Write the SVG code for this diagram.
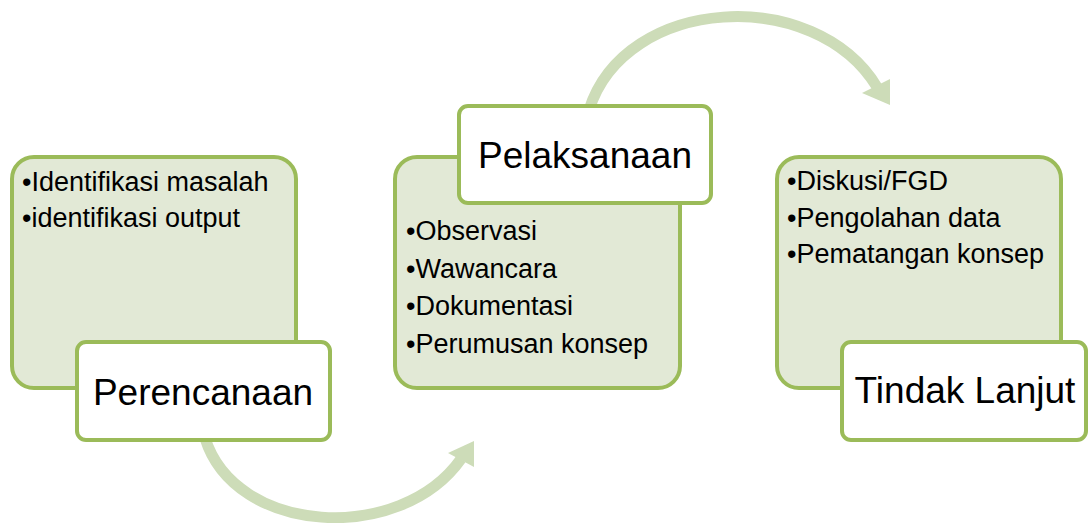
<svg xmlns="http://www.w3.org/2000/svg" width="1089" height="523" viewBox="0 0 1089 523">
<style>
.body{fill:#E2E9D6;stroke:#9BBB59;stroke-width:4}
.lab{fill:#FFFFFF;stroke:#9BBB59;stroke-width:4}
.title{font-family:"Liberation Sans",Arial,sans-serif;font-size:37px;fill:#000;text-anchor:middle}
.item{font-family:"Liberation Sans",Arial,sans-serif;font-size:27px;fill:#000}
.shaft{fill:none;stroke:#CDDCB8;stroke-width:11}
.head{fill:#CDDCB8}
</style>
<rect width="1089" height="523" fill="#FFFFFF"/>
<g id="connectors">
<path class="shaft" d="M205,438 C235,535 400,545 461,459"/>
<polygon class="head" points="448,453 474,441 474,467"/>
<path class="shaft" d="M589,110 C625,-5 815,-15 877,87"/>
<polygon class="head" points="862,93 890,79 890,105"/>
</g>
<g id="perencanaan">
<rect class="body" x="12" y="157" width="284" height="231" rx="22"/>
<text class="item" x="22" y="191">•Identifikasi masalah</text>
<text class="item" x="22" y="227">•identifikasi output</text>
<rect class="lab" x="77" y="342" width="253" height="98" rx="9"/>
<text class="title" x="203" y="405">Perencanaan</text>
</g>
<g id="pelaksanaan">
<rect class="body" x="395" y="157" width="285" height="231" rx="22"/>
<text class="item" x="406" y="240">•Observasi</text>
<text class="item" x="406" y="278">•Wawancara</text>
<text class="item" x="406" y="315">•Dokumentasi</text>
<text class="item" x="406" y="353">•Perumusan konsep</text>
<rect class="lab" x="459" y="106" width="252" height="97" rx="9"/>
<text class="title" x="585" y="168">Pelaksanaan</text>
</g>
<g id="tindak-lanjut">
<rect class="body" x="777" y="157" width="284" height="231" rx="22"/>
<text class="item" x="787" y="190">•Diskusi/FGD</text>
<text class="item" x="787" y="227">•Pengolahan data</text>
<text class="item" x="787" y="263">•Pematangan konsep</text>
<rect class="lab" x="842" y="342" width="244" height="98" rx="9"/>
<text class="title" x="965" y="403">Tindak Lanjut</text>
</g>
</svg>
